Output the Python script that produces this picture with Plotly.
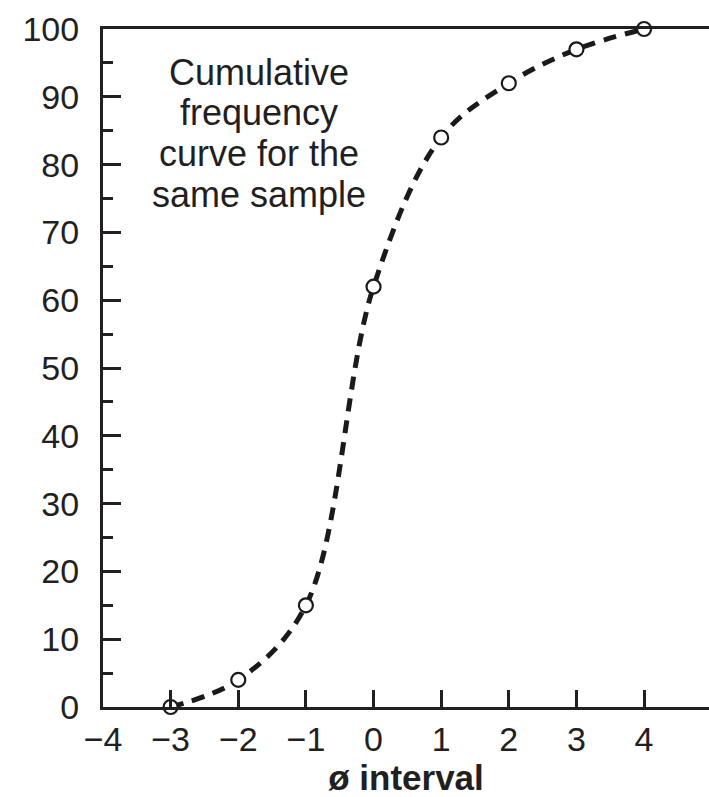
import plotly.graph_objects as go

phi = [-3, -2, -1, 0, 1, 2, 3, 4]
cum_freq = [0, 4, 15, 62, 84, 92, 97, 100]
x_ticks = [-4, -3, -2, -1, 0, 1, 2, 3, 4]
x_tick_text = ["\u22124", "\u22123", "\u22122", "\u22121", "0", "1", "2", "3", "4"]
y_ticks = [0, 10, 20, 30, 40, 50, 60, 70, 80, 90, 100]
note_lines = ["Cumulative", "frequency", "curve for the", "same sample"]

FONT = "Liberation Sans, Arial, sans-serif"
INK = "#231f20"

fig = go.Figure()
fig.add_trace(go.Scatter(
    x=phi, y=cum_freq, mode="lines",
    line=dict(color="#1a1a1a", width=5, dash="13px,9px", shape="spline", smoothing=1.0),
    hoverinfo="skip", showlegend=False, cliponaxis=False,
))
fig.add_trace(go.Scatter(
    x=phi, y=cum_freq, mode="markers",
    marker=dict(size=14, color="white", line=dict(color="#1a1a1a", width=2.2)),
    showlegend=False, cliponaxis=False,
))

# note text, one annotation per line for tighter line spacing
top_paper = 1 - (72 - 29) / 678.0
for i, t in enumerate(note_lines):
    fig.add_annotation(
        x=-1.70, xref="x", y=top_paper - i * 40.7 / 678.0, yref="paper",
        text=t, showarrow=False, xanchor="center", yanchor="middle",
        font=dict(family=FONT, size=36, color=INK),
    )

fig.update_layout(
    width=709, height=797,
    margin=dict(l=103, r=0, t=29, b=90),
    paper_bgcolor="white", plot_bgcolor="white",
    font=dict(family=FONT, size=34, color=INK),
    xaxis=dict(
        range=[-4, 4.96], tickmode="array", tickvals=x_ticks, ticktext=x_tick_text,
        ticks="inside", ticklen=17, tickwidth=2.5, tickcolor=INK,
        showline=True, linewidth=3, linecolor=INK, mirror=True,
        showgrid=False, zeroline=False, automargin=False,
        title=dict(text="<b>\u00f8 interval</b>", font=dict(family=FONT, size=35, color=INK), standoff=2),
    ),
    yaxis=dict(
        range=[0, 100], tickmode="array", tickvals=y_ticks,
        ticks="inside", ticklen=18, tickwidth=2.5, tickcolor=INK,
        minor=dict(dtick=5, ticks="inside", ticklen=10, tickwidth=2.5, tickcolor=INK),
        showline=True, linewidth=3, linecolor=INK,
        showgrid=False, zeroline=False, ticklabelstandoff=14, automargin=False,
    ),
)

fig.write_html(
    "out.html",
    config={"displayModeBar": False},
    post_script="document.body.style.margin='0';document.body.style.overflow='hidden';",
)
